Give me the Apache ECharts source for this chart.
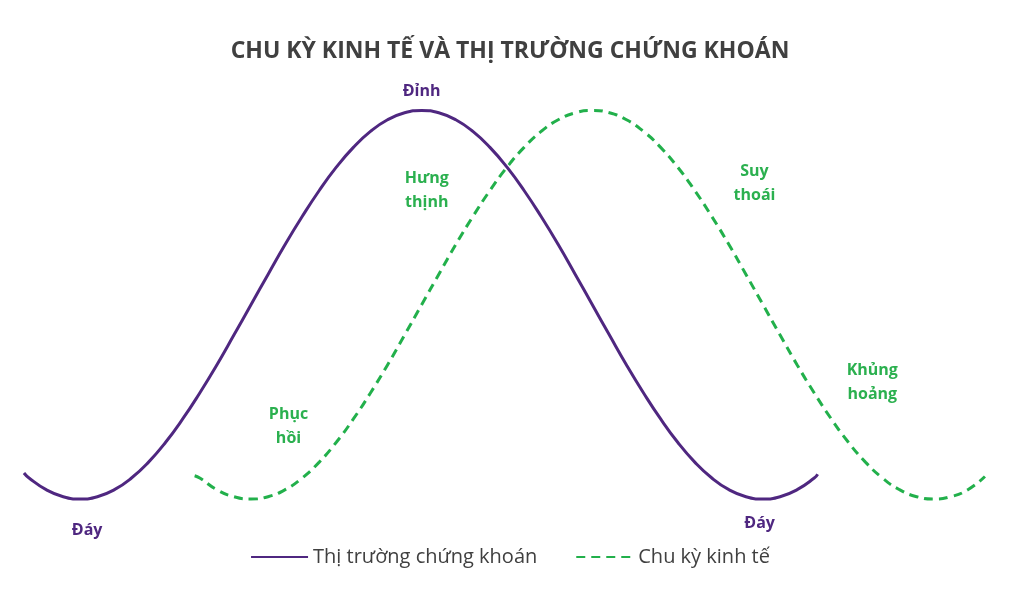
<!DOCTYPE html>
<html>
<head>
<meta charset="utf-8">
<script src="https://cdn.jsdelivr.net/npm/echarts@6/dist/echarts.min.js"></script>
<style>
  html, body { margin: 0; padding: 0; background: #fff; }
  #main { width: 1020px; height: 600px; }
</style>
</head>
<body>
<div id="main"></div>
<script>
// trục x: thời gian (đơn vị tương đối), trục y: mức độ 0 (đáy) - 100 (đỉnh)
var stockX = [-3.3, -3, -2, -1, 0, 1, 2, 3, 4, 5, 6, 7, 8, 9, 10, 11, 12, 13, 14, 15, 16, 17, 18, 19, 20,
  21, 22, 23, 24, 25, 26, 27, 28, 29, 30, 31, 32, 33, 34, 35, 36, 37, 38, 39, 40, 41, 42, 43, 43.2];
var stockY = [6.7, 5.4, 2.4, 0.6, 0, 0.6, 2.4, 5.4, 9.5, 14.6, 20.6, 27.3, 34.5, 42.2, 50, 57.8, 65.5, 72.7, 79.4, 85.4, 90.5, 94.6, 97.6, 99.4, 100,
  99.4, 97.6, 94.6, 90.5, 85.4, 79.4, 72.7, 65.5, 57.8, 50, 42.2, 34.5, 27.3, 20.6, 14.6, 9.5, 5.4, 2.4, 0.6, 0, 0.6, 2.4, 5.4, 6.4];

var econX = [6.7, 7, 8, 9, 10, 11, 12, 13, 14, 15, 16, 17, 18, 19, 20, 21, 22, 23, 24, 25, 26, 27, 28, 29, 30,
  31, 32, 33, 34, 35, 36, 37, 38, 39, 40, 41, 42, 43, 44, 45, 46, 47, 48, 49, 50, 51, 52, 53];
var econY = [6, 5.4, 2.4, 0.6, 0, 0.6, 2.4, 5.4, 9.5, 14.6, 20.6, 27.3, 34.5, 42.2, 50, 57.8, 65.5, 72.7, 79.4, 85.4, 90.5, 94.6, 97.6, 99.4, 100,
  99.4, 97.6, 94.6, 90.5, 85.4, 79.4, 72.7, 65.5, 57.8, 50, 42.2, 34.5, 27.3, 20.6, 14.6, 9.5, 5.4, 2.4, 0.6, 0, 0.6, 2.4, 5.8];

var seriesNames = ['Thị trường chứng khoán', 'Chu kỳ kinh tế'];

// nhãn giai đoạn
var stockLabels = ['Đỉnh', 'Đáy', 'Đáy'];
var stockLabelAt = [[20, 104.8], [0.4, -8.2], [39.8, -6.2]];
var econLabels = ['Hưng\nthịnh', 'Suy\nthoái', 'Khủng\nhoảng', 'Phục\nhồi'];
var econLabelAt = [[20.3, 79.5], [39.5, 81.3], [46.4, 29.9], [12.2, 18.8]];

var purple = '#4f2780';
var green = '#22b04b';

function pairs(xs, ys) {
  return xs.map(function (x, i) { return [x, ys[i]]; });
}
function marks(texts, at, color) {
  return {
    symbol: 'circle',
    symbolSize: 1,
    itemStyle: { color: 'rgba(0,0,0,0)' },
    label: {
      show: true,
      position: 'inside',
      color: color,
      fontSize: 16,
      fontWeight: 'bold',
      fontFamily: 'Open Sans',
      lineHeight: 24,
      formatter: function (p) { return p.name; }
    },
    data: texts.map(function (t, i) { return { name: t, coord: at[i] }; })
  };
}

var myChart = echarts.init(document.getElementById('main'));
var option = {
  backgroundColor: '#fff',
  animation: false,
  title: {
    text: 'CHU KỲ KINH TẾ VÀ THỊ TRƯỜNG CHỨNG KHOÁN',
    left: 'center',
    top: 35,
    textStyle: {
      fontFamily: 'Open Sans',
      fontSize: 23,
      fontWeight: 'bold',
      color: '#404040'
    }
  },
  legend: {
    bottom: 28,
    left: 'center',
    itemWidth: 57,
    itemHeight: 14,
    itemGap: 38,
    itemStyle: { color: 'rgba(0,0,0,0)', borderWidth: 0 },
    textStyle: { fontFamily: 'Open Sans', fontSize: 20, color: '#404040' },
    data: seriesNames
  },
  grid: { left: 12, right: 18, top: 71.6, bottom: 42.7 },
  xAxis: {
    type: 'value', min: -4, max: 54,
    show: false
  },
  yAxis: {
    type: 'value', min: -15, max: 110,
    show: false
  },
  series: [
    {
      name: seriesNames[0],
      type: 'line',
      smooth: true,
      clip: false,
      symbol: 'none',
      lineStyle: { color: purple, width: 3 },
      itemStyle: { color: purple },
      data: pairs(stockX, stockY),
      markPoint: marks(stockLabels, stockLabelAt, purple)
    },
    {
      name: seriesNames[1],
      type: 'line',
      smooth: true,
      clip: false,
      symbol: 'none',
      lineStyle: { color: green, width: 3, type: [9, 6] },
      itemStyle: { color: green },
      data: pairs(econX, econY),
      markPoint: marks(econLabels, econLabelAt, '#2bb04f')
    }
  ]
};
myChart.setOption(option);
</script>
</body>
</html>
